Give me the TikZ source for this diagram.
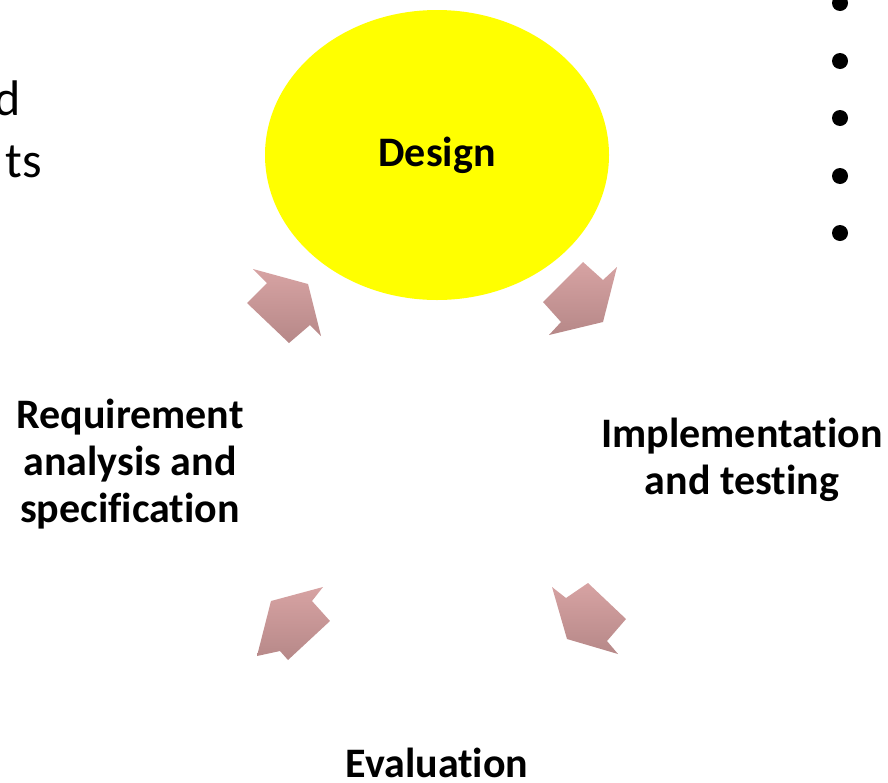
\documentclass[tikz,border=0pt]{standalone}
\usepackage{fontspec}
\setmainfont[RawFeature=-liga]{Carlito}
\begin{document}
\begin{tikzpicture}[x=1pt,y=-1pt,
  lbl/.style={font=\bfseries\fontsize{42}{47}\selectfont, align=center, inner sep=0pt, anchor=base},
  side/.style={font=\fontsize{50}{60}\selectfont, inner sep=0pt, anchor=base east},
  blockarrow/.style={top color=arrtop, bottom color=arrbot, draw=none},
  bullet/.style={fill=black, draw=none}]
\definecolor{arrtop}{RGB}{215,163,163}
\definecolor{arrbot}{RGB}{182,136,136}
\definecolor{yel}{RGB}{255,255,0}
\useasboundingbox (0,0) rectangle (888,782);
% ellipse
\fill[yel] (437,155) ellipse [x radius=172, y radius=145];
\node[lbl] (design) at (437,166) {Design};
% labels
\node[lbl] (req) at (130,522) {Requirement\\analysis and\\specification};
\node[lbl] (impl) at (742,494) {Implementation\\and testing};
\node[lbl] (eval) at (437,777) {Evaluation};
% partial side text
\node[side] (d) at (21,115) {d};
\node[side] (ts) at (42,177) {ts};
% bullets
\foreach \yy [count=\i] in {3,61,118,176,233}
  \fill[bullet] (840,\yy) circle (8);
% block arrows
\path[blockarrow] (247,303) -- (267,283) -- (253,269) -- (308,284) -- (321,336) -- (310,325) -- (289,343) -- cycle;
\path[blockarrow] (583,262) -- (603,280) -- (617,267) -- (603,322) -- (549,335) -- (561,322) -- (543,302) -- cycle;
\path[blockarrow] (330,621) -- (312,601) -- (323,587) -- (271,601) -- (257,656) -- (280,651) -- (288,660) -- cycle;
\path[blockarrow] (588,583) -- (626,619) -- (607,641) -- (618,654) -- (567,639) -- (552,587) -- (566,598) -- cycle;
\end{tikzpicture}
\end{document}
